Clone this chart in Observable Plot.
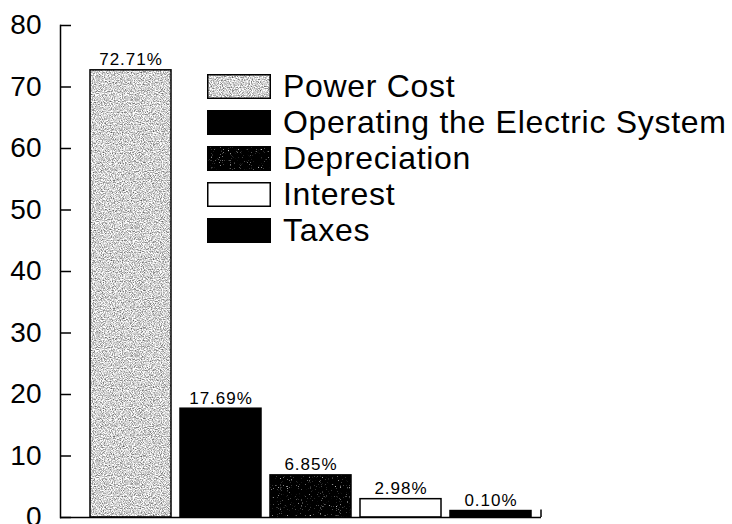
<!DOCTYPE html>
<html>
<head>
<meta charset="utf-8">
<script src="https://cdn.jsdelivr.net/npm/d3@7"></script>
<script src="https://cdn.jsdelivr.net/npm/@observablehq/plot@0.6"></script>
<style>
  html, body { margin: 0; padding: 0; background: #fff; }
  #wrap { position: relative; width: 732px; height: 524px; overflow: hidden; font-family: "Liberation Sans", Arial, sans-serif; }
  #legend { position: absolute; left: 207px; top: 74px; }
  .row { display: flex; align-items: center; height: 25px; margin-bottom: 11px; }
  .row .lab { margin-left: 12px; font-size: 32px; letter-spacing: 0.7px; line-height: 25px; color: #000; white-space: nowrap; }
  g[aria-label="text"] text { letter-spacing: 1px; }
  g[aria-label="y-axis tick label"] text { font-size: 28px; }
</style>
</head>
<body>
<svg width="0" height="0" style="position:absolute">
  <defs>
    <filter id="noiseLight" x="0" y="0" width="1" height="1" color-interpolation-filters="sRGB">
      <feTurbulence type="fractalNoise" baseFrequency="0.9" numOctaves="2" seed="7" stitchTiles="stitch"/>
      <feColorMatrix type="matrix" values="1.3 0 0 0 0.17  1.3 0 0 0 0.17  1.3 0 0 0 0.17  0 0 0 0 1"/>
    </filter>
    <filter id="noiseDark" x="0" y="0" width="1" height="1" color-interpolation-filters="sRGB">
      <feTurbulence type="fractalNoise" baseFrequency="0.9" numOctaves="2" seed="3" stitchTiles="stitch"/>
      <feColorMatrix type="matrix" values="4 0 0 0 -2.6  4 0 0 0 -2.6  4 0 0 0 -2.6  0 0 0 0 1"/>
    </filter>
    <pattern id="grain" patternUnits="userSpaceOnUse" width="128" height="128">
      <rect width="128" height="128" fill="#c8c8c8" filter="url(#noiseLight)"/>
    </pattern>
    <pattern id="grainDark" patternUnits="userSpaceOnUse" width="128" height="128">
      <rect width="128" height="128" fill="#111" filter="url(#noiseDark)"/>
    </pattern>
  </defs>
</svg>
<div id="wrap"><div id="legend"></div></div>
<script>
const categories = ["Power Cost", "Operating the Electric System", "Depreciation", "Interest", "Taxes"];
const values = [72.71, 17.69, 6.85, 2.98, 0.10];
const labels = ["72.71%", "17.69%", "6.85%", "2.98%", "0.10%"];
const fills = ["url(#grain)", "#000", "url(#grainDark)", "#fff", "#000"];
const yTicks = [0, 10, 20, 30, 40, 50, 60, 70, 80];

const minVisible = 1.05; // smallest drawn bar height, as in the original
const data = categories.map((c, i) => ({cat: c, value: values[i], label: labels[i], fill: fills[i]}));

const W = 732, H = 524, ML = 60, MR = 191, MT = 25, MB = 7;

const plot = Plot.plot({
  width: W, height: H,
  marginLeft: ML, marginRight: MR, marginTop: MT, marginBottom: MB,
  style: {fontFamily: "Liberation Sans, Arial, sans-serif", background: "#fff", color: "#000", overflow: "visible"},
  x: {domain: categories, axis: null, paddingInner: 0.1, paddingOuter: 0.05, insetLeft: 24.5, insetRight: 3.5},
  y: {domain: [0, 80]},
  color: {type: "identity"},
  marks: [
    Plot.barY(data, {x: "cat", y: d => Math.max(d.value, minVisible), fill: "fill", stroke: "#000", strokeWidth: 1.5}),
    Plot.text(data, {x: "cat", y: d => Math.max(d.value, minVisible), text: "label", lineAnchor: "bottom", dy: -5, fontSize: 17, fill: "#000"}),
    Plot.axisY(yTicks, {tickSize: -11, tickPadding: 30, fontSize: 28, strokeWidth: 1.5, label: null}),
    Plot.frame({anchor: "left", strokeWidth: 1.5}),
    Plot.ruleY([0], {strokeWidth: 1.5})
  ]
});

const ys = plot.scale("y");
d3.select(plot).append("line")
  .attr("x1", W - MR).attr("x2", W - MR)
  .attr("y1", ys.apply(0)).attr("y2", ys.apply(1.2))
  .attr("stroke", "#000").attr("stroke-width", 1.5);

const wrap = document.getElementById("wrap");
wrap.insertBefore(plot, wrap.firstChild);

const legend = d3.select("#legend");
categories.forEach((c, i) => {
  const row = legend.append("div").attr("class", "row");
  const s = row.append("svg").attr("width", 64).attr("height", 25);
  s.append("rect").attr("x", 0.75).attr("y", 0.75).attr("width", 62.5).attr("height", 23.5)
    .attr("fill", fills[i]).attr("stroke", "#000").attr("stroke-width", 1.5);
  row.append("span").attr("class", "lab").text(c);
});
</script>
</body>
</html>
